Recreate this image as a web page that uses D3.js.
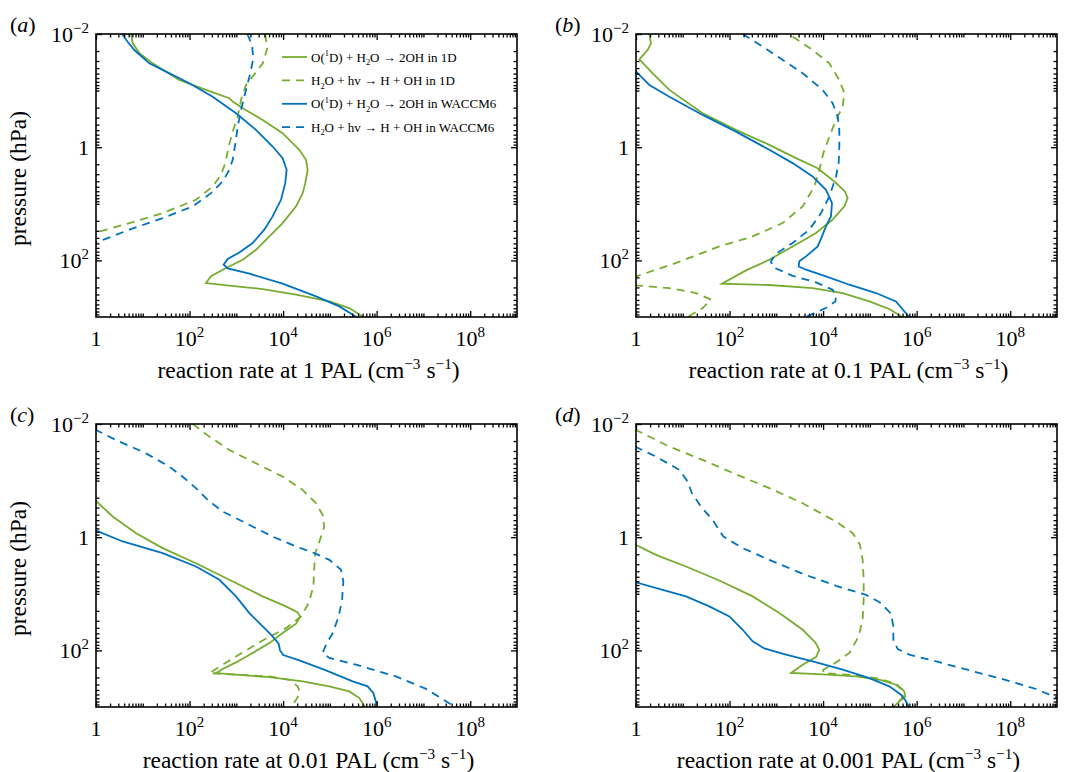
<!DOCTYPE html>
<html>
<head>
<meta charset="utf-8">
<script src="https://cdn.jsdelivr.net/npm/d3@7"></script>
<style>
  body { margin: 0; background: #fff; }
  svg { font-family: "Liberation Serif", "Times New Roman", serif; }
</style>
</head>
<body>
<svg id="chart" width="1065" height="772"></svg>
<script>
// each profile: [pressure (hPa), reaction rate (cm^-3 s^-1)], null rate = gap
var a_o1d_1d = [[0.01,5.6],[0.0146,6.1],[0.0219,8.5],[0.033,16.3],[0.0649,60],[0.0973,225],[0.136,708],[0.156,836],[0.205,1370],[0.33,3660],[0.566,9770],[1.11,22200],[1.67,30800],[2.51,33500],[4.32,29800],[6.48,26200],[11.1,18900],[21.9,9770],[37.7,5080],[64.9,2630],[97.3,1370],[136,601],[191,287],[251,225],[280,708],[321,3660],[404,18900],[530,97300],[694,260000],[1000,520000]];
var a_h2o_1d = [[0.01,4100],[0.0179,4600],[0.033,3660],[0.0566,2230],[0.0794,1610],[0.146,1260],[0.288,1070],[0.494,863],[0.973,685],[1.91,582],[3.08,470],[4.94,312],[8.5,137],[14.6,26.6],[21.9,5.16],[33,0.9]];
var a_o1d_w = [[0.01,3.6],[0.0137,4.75],[0.0192,6.6],[0.033,13.8],[0.0463,31.4],[0.0743,99],[0.128,312],[0.251,984],[0.494,2630],[0.973,5970],[1.56,9770],[2.51,11900],[4.32,11100],[8.5,9020],[16.7,5970],[28.7,3960],[49.4,2230],[72.3,1160],[94.6,653],[119,536],[138,653],[172,1900],[258,9770],[431,50500],[649,159000],[1000,370000]];
var a_h2o_w = [[0.01,1720],[0.0156,2160],[0.0269,2310],[0.0494,1990],[0.0973,1610],[0.219,1260],[0.431,1070],[0.849,953],[1.67,836],[2.51,708],[4.04,509],[6.49,287],[11.1,117],[17.9,26.6],[28.7,5.16],[50,0.9]];

var b_o1d_1d = [[0.01,1.93],[0.0146,2.09],[0.0192,1.77],[0.028,1.18],[0.0494,2.27],[0.0973,5.16],[0.251,26.6],[0.494,137],[0.91,708],[1.56,2630],[2.35,7660],[4.04,17400],[6.05,29400],[7.94,33500],[11.1,28400],[19.1,16000],[32.9,7050],[56.6,2230],[97.3,708],[150,225],[258,68.9],[272,708],[308,5970],[377,26200],[530,97300],[722,260000],[1000,490000]];
var b_h2o_1d = [[0.0111,2230],[0.0192,5970],[0.033,13600],[0.0649,22200],[0.111,28400],[0.191,26200],[0.33,18900],[0.649,13600],[1.28,10100],[2.51,8300],[4.94,6500],[11.1,3660],[21.9,1370],[37.7,312],[56.6,60.4],[111,7.2],[195,0.95],[235,null],[275,0.95],[308,5.16],[377,19.2],[494,40.1],[694,26.6],[1000,12.6]];
var b_o1d_w = [[0.044,0.95],[0.0794,1.93],[0.128,5.16],[0.269,26.6],[0.53,137],[1.11,708],[1.91,2230],[3.29,5970],[5.66,11500],[9.73,15500],[16.7,14700],[25.1,11500],[37.7,9460],[56.6,7660],[85,4310],[104,3100],[128,3000],[146,4310],[191,11500],[269,36400],[377,135000],[530,361000],[1000,690000]];
var b_h2o_w = [[0.01,191],[0.0167,509],[0.0288,1370],[0.0494,3660],[0.0973,9770],[0.167,16000],[0.288,20500],[0.494,22200],[0.973,22200],[1.91,21500],[3.29,18900],[7.43,13600],[14.6,9020],[28.7,5080],[49.4,2230],[76.2,984],[104,769],[131,836],[187,2230],[245,7050],[330,16000],[431,18900],[530,18300],[694,11500],[1000,4200]];

var c_o1d_1d = [[0.22,0.95],[0.431,2.27],[0.849,7.2],[1.56,26.6],[2.88,137],[5.66,708],[11.1,3660],[16.7,11500],[21.3,20500],[25.1,23000],[33.8,18900],[49.4,9770],[74.3,5080],[111,2230],[163,984],[213,509],[251,368],[269,984],[296,5080],[352,26200],[431,97300],[530,260000],[694,427000],[1000,560000]];
var c_h2o_1d = [[0.01,117],[0.0167,265],[0.0288,708],[0.0494,2630],[0.0849,9770],[0.146,26200],[0.251,50500],[0.404,70000],[0.649,76000],[1.11,61400],[1.91,48900],[3.29,46500],[7.43,44300],[14.6,35200],[25.1,24200],[40.4,11500],[66.7,3660],[128,984],[251,265],[269,984],[288,5080],[330,13600],[431,20500],[566,23000],[743,18900],[1000,15000]];
var c_o1d_w = [[0.75,0.95],[1.19,3.72],[1.91,26.6],[3.29,137],[5.66,434],[11.1,984],[21.9,1900],[37.7,3660],[56.6,5970],[76.2,8040],[100,8590],[121,10100],[150,22200],[225,82600],[352,307000],[431,641000],[566,848000],[1000,1040000]];
var c_h2o_w = [[0.0125,0.95],[0.0192,2.68],[0.033,11.7],[0.0566,36.9],[0.0873,73.6],[0.136,137],[0.219,244],[0.352,509],[0.566,1610],[0.973,5970],[1.46,18900],[1.91,46500],[2.51,97300],[3.77,173000],[6.05,194000],[12.8,182000],[25.1,154000],[49.4,115000],[79.4,82600],[111,70000],[136,97300],[179,361000],[288,2590000],[479,11400000],[1000,47600000]];

var d_o1d_1d = [[1.35,0.95],[2.05,2.68],[3.29,11.7],[5.82,60.4],[11.1,312],[21.9,1160],[43.2,3660],[72.3,6830],[97.3,8300],[131,7050],[179,3660],[251,2060],[265,9770],[288,50500],[330,159000],[404,361000],[530,544000],[649,573000],[794,427000],[1000,320000]];
var d_h2o_1d = [[0.0125,0.95],[0.0251,5.16],[0.0431,26.6],[0.0773,137],[0.136,708],[0.251,3660],[0.53,18900],[0.849,42900],[1.36,61400],[2.51,70000],[5.66,73600],[12.8,73600],[28.7,70000],[56.6,57500],[111,36400],[163,18900],[219,10100],[251,10100],[272,42900],[308,135000],[387,361000],[530,544000],[694,485000],[1000,320000]];
var d_o1d_w = [[6.2,0.95],[8.5,3.72],[11.1,11.7],[16.7,36.9],[25.1,99],[43.2,191],[69.3,312],[92.3,554],[119,1610],[156,5970],[219,26200],[308,97300],[431,260000],[605,463000],[762,573000],[1000,690000]];
var d_h2o_w = [[0.025,0.95],[0.0377,2.68],[0.0649,8.5],[0.104,12.7],[0.167,15.7],[0.288,24.5],[0.494,43.5],[0.973,73.6],[1.56,191],[2.51,708],[4.44,3660],[7.23,18900],[10.4,82600],[14.6,173000],[22.5,283000],[37.7,317000],[64.9,317000],[94.6,393000],[119,698000],[156,2590000],[225,13400000],[321,68900000],[481,356000000],[694,1030000000]];

var panelTags = ['(a)', '(b)', '(c)', '(d)'];
var palLevels = ['1', '0.1', '0.01', '0.001'];
var xTickValues = [1, 1e2, 1e4, 1e6, 1e8];
var xTickBase = ['1', '10', '10', '10', '10'];
var xTickSup = ['', '2', '4', '6', '8'];
var yTickValues = [1e-2, 1, 1e2];
var yTickBase = ['10', '1', '10'];
var yTickSup = ['\u22122', '', '2'];
var legendLabels = [
  [['O(', ''], ['1', 'sup'], ['D) + H', ''], ['2', 'sub'], ['O \u2192 2OH in 1D', '']],
  [['H', ''], ['2', 'sub'], ['O + hv \u2192 H + OH in 1D', '']],
  [['O(', ''], ['1', 'sup'], ['D) + H', ''], ['2', 'sub'], ['O \u2192 2OH in WACCM6', '']],
  [['H', ''], ['2', 'sub'], ['O + hv \u2192 H + OH in WACCM6', '']]
];

var green = '#77ac30', blue = '#0072bd';
var styles = [
  { color: green, dash: null },
  { color: green, dash: '8,6' },
  { color: blue, dash: null },
  { color: blue, dash: '8,6' }
];

var panels = [
  { left: 96, top: 34, series: [a_o1d_1d, a_h2o_1d, a_o1d_w, a_h2o_w] },
  { left: 636, top: 34, series: [b_o1d_1d, b_h2o_1d, b_o1d_w, b_h2o_w] },
  { left: 96, top: 424, series: [c_o1d_1d, c_h2o_1d, c_o1d_w, c_h2o_w] },
  { left: 636, top: 424, series: [d_o1d_1d, d_h2o_1d, d_o1d_w, d_h2o_w] }
];
var W = 421, H = 283;

var svg = d3.select('#chart');

var x = d3.scaleLog().domain([1, 1e9]).range([0, W]);
var y = d3.scaleLog().domain([1e-2, 1e3]).range([0, H]);

// minor ticks on every 1..9 multiple
var xMinor = [], yMinor = [];
for (var e = 0; e <= 8; e++) for (var m = 1; m <= 9; m++) {
  var v = m * Math.pow(10, e);
  if (xTickValues.indexOf(v) < 0) xMinor.push(v);
}
for (var e2 = -2; e2 <= 2; e2++) for (var m2 = 1; m2 <= 9; m2++) {
  var v2 = +(m2 * Math.pow(10, e2)).toPrecision(3);
  if (yTickValues.indexOf(v2) < 0) yMinor.push(v2);
}

function addTspans(text, parts, size) {
  var shift = 0;
  parts.forEach(function(p) {
    var t = text.append('tspan').text(p[0]);
    var target = p[1] === 'sup' ? -size * 0.4 : p[1] === 'sub' ? size * 0.28 : 0;
    if (p[1]) t.attr('font-size', size * 0.65);
    if (target !== shift) t.attr('dy', target - shift);
    shift = target;
  });
}

panels.forEach(function(p, i) {
  var g = svg.append('g').attr('transform', 'translate(' + p.left + ',' + p.top + ')');

  g.append('clipPath').attr('id', 'clip' + i)
    .append('rect').attr('width', W).attr('height', H);

  var line = d3.line()
    .defined(function(d) { return d[1] !== null; })
    .x(function(d) { return x(d[1]); })
    .y(function(d) { return y(d[0]); });

  var curves = g.append('g').attr('clip-path', 'url(#clip' + i + ')');
  p.series.forEach(function(s, k) {
    curves.append('path')
      .datum(s)
      .attr('d', line)
      .attr('fill', 'none')
      .attr('stroke', styles[k].color)
      .attr('stroke-width', 1.8)
      .attr('stroke-dasharray', styles[k].dash);
  });

  // inward ticks on all four sides
  function axisSet(axisFn, scale, vals, size, tr) {
    var a = g.append('g').attr('transform', tr)
      .call(axisFn(scale).tickValues(vals).tickSize(size).tickFormat(''));
    a.select('.domain').remove();
    a.selectAll('line').attr('stroke', '#000').attr('stroke-width', 1.3);
  }
  axisSet(d3.axisBottom, x, xTickValues, -6, 'translate(0,' + H + ')');
  axisSet(d3.axisBottom, x, xMinor, -3.5, 'translate(0,' + H + ')');
  axisSet(d3.axisTop, x, xTickValues, -6, 'translate(0,0)');
  axisSet(d3.axisTop, x, xMinor, -3.5, 'translate(0,0)');
  axisSet(d3.axisLeft, y, yTickValues, -6, 'translate(0,0)');
  axisSet(d3.axisLeft, y, yMinor, -3.5, 'translate(0,0)');
  axisSet(d3.axisRight, y, yTickValues, -6, 'translate(' + W + ',0)');
  axisSet(d3.axisRight, y, yMinor, -3.5, 'translate(' + W + ',0)');

  g.append('rect').attr('width', W).attr('height', H)
    .attr('fill', 'none').attr('stroke', '#000').attr('stroke-width', 1.6);

  // tick labels
  xTickValues.forEach(function(v, j) {
    var t = g.append('text').attr('x', x(v)).attr('y', H + 29)
      .attr('text-anchor', 'middle').attr('font-size', 22);
    t.append('tspan').text(xTickBase[j]);
    if (xTickSup[j]) t.append('tspan').attr('font-size', 15).attr('dy', -9).text(xTickSup[j]);
  });
  yTickValues.forEach(function(v, j) {
    var t = g.append('text').attr('x', -7).attr('y', y(v) + 8)
      .attr('text-anchor', 'end').attr('font-size', 22);
    t.append('tspan').text(yTickBase[j]);
    if (yTickSup[j]) t.append('tspan').attr('font-size', 15).attr('dy', -9).text(yTickSup[j]);
  });

  // axis titles
  var xt = g.append('text').attr('x', W / 2 + 2).attr('y', H + 61)
    .attr('text-anchor', 'middle').attr('font-size', 23.5);
  addTspans(xt, [['reaction rate at ' + palLevels[i] + ' PAL (cm', ''], ['\u22123', 'sup'], [' s', ''], ['\u22121', 'sup'], [')', '']], 23.5);

  if (i % 2 === 0) {
    g.append('text')
      .attr('transform', 'translate(' + (-70) + ',' + (H / 2 + 3) + ') rotate(-90)')
      .attr('text-anchor', 'middle').attr('font-size', 23.5)
      .text('pressure (hPa)');
  }

  // panel tag
  var tag = g.append('text').attr('x', i % 2 === 0 ? -86 : -81).attr('y', -2).attr('font-size', 22);
  tag.append('tspan').text('(');
  tag.append('tspan').attr('font-style', 'italic').text(panelTags[i].charAt(1));
  tag.append('tspan').text(')');

  // legend in first panel
  if (i === 0) {
    legendLabels.forEach(function(lab, k) {
      var ly = 23 + k * 23.4;
      g.append('line').attr('x1', 186).attr('x2', 211).attr('y1', ly).attr('y2', ly)
        .attr('stroke', styles[k].color).attr('stroke-width', 1.8)
        .attr('stroke-dasharray', styles[k].dash);
      var t = g.append('text').attr('x', 215).attr('y', ly + 4.5).attr('font-size', 13);
      addTspans(t, lab, 13);
    });
  }
});
</script>
</body>
</html>
